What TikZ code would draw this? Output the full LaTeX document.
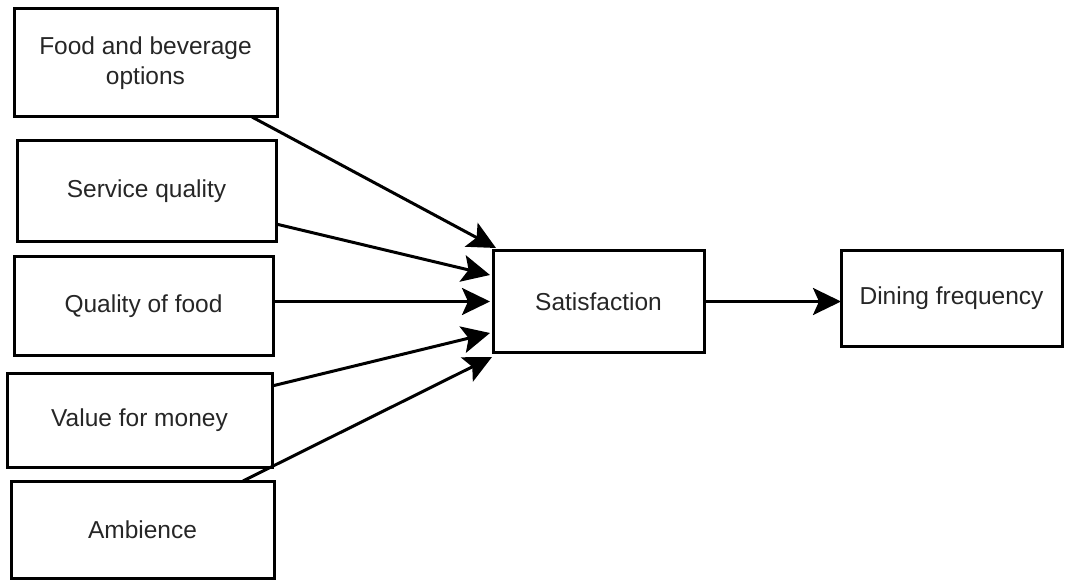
\documentclass[tikz,border=0pt]{standalone}
\usepackage{fontspec}
\setmainfont{Liberation Sans}
\usetikzlibrary{arrows.meta}

\begin{document}
\begin{tikzpicture}[x=1pt,y=-1pt,
  box/.style={draw,line width=3pt,outer sep=0pt,inner sep=0pt,align=center,
    font=\fontsize{24.5}{30}\selectfont,text=black!85},
  arr/.style={-{Stealth[length=28pt,width=27pt,inset=6pt]},line width=3pt}]
\useasboundingbox (0,0) rectangle (1069,580);
% factors
\node[box,minimum width=263pt,minimum height=108pt] (food) at (145.5,63) {Food and beverage\\options};
\node[box,minimum width=259pt,minimum height=101pt] (service) at (146.5,191.5) {Service quality};
\node[box,minimum width=259pt,minimum height=98pt] (quality) at (143.5,306) {Quality of food};
\node[box,minimum width=265pt,minimum height=94pt] (value) at (139.5,420) {Value for money};
\node[box,minimum width=263pt,minimum height=97pt] (ambience) at (142.5,529.5) {Ambience};
% outcome
\node[box,minimum width=211pt,minimum height=101pt] (sat) at (598.5,301.5) {Satisfaction};
\node[box,minimum width=221pt,minimum height=95pt] (dining) at (951.5,298.5) {Dining frequency};
% arrows
\draw[arr] ([xshift=-25pt]food.south east) -- ([xshift=3pt,yshift=3pt]sat.north west);
\draw[arr] ([yshift=-32.5pt]service.east) -- ([xshift=-3pt,yshift=26.5pt]sat.west);
\draw[arr] ([yshift=4.5pt]quality.east) -- ([xshift=-3pt]sat.west);
\draw[arr] ([yshift=34pt]value.east) -- ([xshift=-3pt,yshift=-31.5pt]sat.west);
\draw[arr] ([xshift=-31pt]ambience.north east) -- ([xshift=-1pt,yshift=-5pt]sat.south west);
\draw[arr] (sat.east) -- (sat.east -| dining.west);
\end{tikzpicture}
\end{document}
